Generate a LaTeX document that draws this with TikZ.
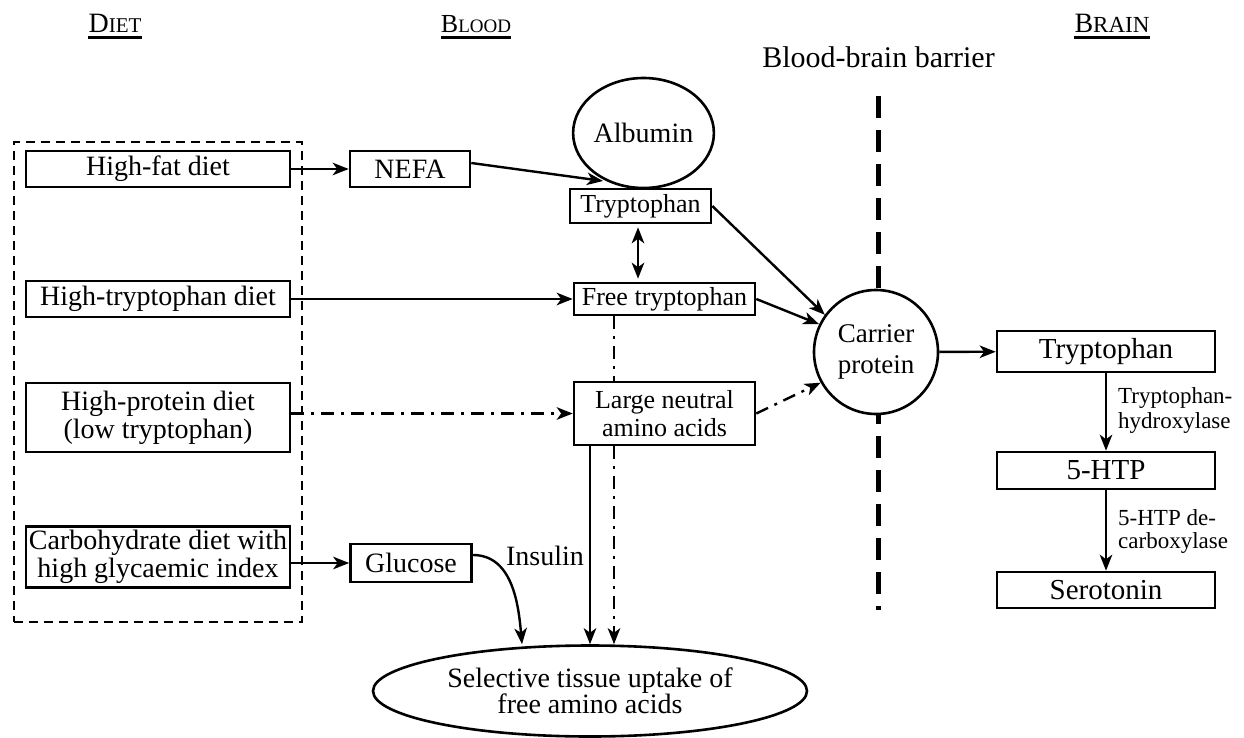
\documentclass[tikz,border=0pt]{standalone}
\usepackage{fontspec}
\setmainfont{Liberation Serif}
\usetikzlibrary{arrows.meta,shapes.geometric,calc}
\newcommand\myfs[2]{\fontsize{#1}{#2}\selectfont}
\begin{document}
\begin{tikzpicture}[x=1pt,y=-1pt,
  box/.style={draw,line width=2.6pt,inner sep=0pt,align=center,font=\myfs{28}{28}},
  arr/.style={line width=2.4pt,-{Stealth[length=16pt,width=12.5pt,inset=4.5pt]}},
  dbl/.style={line width=2.4pt,{Stealth[length=16pt,width=12.5pt,inset=4.5pt]}-{Stealth[length=16pt,width=12.5pt,inset=4.5pt]}},
  ddot/.style={dash pattern=on 13pt off 7pt on 3pt off 7pt},
  hdr/.style={anchor=base,inner sep=0pt},
  ul/.style={line width=2.4pt}
]
\useasboundingbox (0,0) rectangle (1244,738);

% headers
\node[hdr] (hdiet) at (115,33) {\myfs{28}{28}D\myfs{21}{21}IET};
\node[hdr] (hblood) at (476,33) {\myfs{26}{26}B\myfs{19}{19}LOOD};
\node[hdr] (hbrain) at (1112,33) {\myfs{28}{28}B\myfs{23}{23}RAIN};
\draw[ul] ([yshift=-4.5pt]hdiet.base west) -- ([yshift=-4.5pt]hdiet.base east);
\draw[ul] ([yshift=-4.5pt]hblood.base west) -- ([yshift=-4.5pt]hblood.base east);
\draw[ul] ([yshift=-4.5pt]hbrain.base west) -- ([yshift=-4.5pt]hbrain.base east);

\node[hdr,font=\myfs{30}{30}] (bbb) at (878.5,68) {Blood-brain barrier};
\coordinate (bartop) at (878,96);
\coordinate (barbot) at (878,610);
\draw[line width=5pt,dash pattern=on 22pt off 12pt] (bartop) -- (barbot);

% diet group
\node[draw,line width=2.4pt,dash pattern=on 9pt off 6pt,minimum width=288pt,minimum height=480pt,inner sep=0pt] (dietgrp) at (158,382) {};
\node[box,minimum width=264pt,minimum height=36pt] (hfat) at (158,169) {High-fat diet};
\node[box,minimum width=264pt,minimum height=36pt] (htryp) at (158,299) {High-tryptophan diet};
\node[box,minimum width=264pt,minimum height=69pt] (hprot) at (158,417.5) {High-protein diet\\(low tryptophan)};
\node[box,minimum width=264pt,minimum height=61pt] (carb) at (158,557) {Carbohydrate diet with\\high glycaemic index};

% blood
\node[box,minimum width=120pt,minimum height=36pt] (nefa) at (410,169) {NEFA};
\node[box,minimum width=121pt,minimum height=38pt] (gluc) at (411,563) {Glucose};
\node[draw,ellipse,line width=2.6pt,minimum width=121pt,minimum height=110pt,inner sep=0pt,font=\myfs{28}{28}] (alb) at (643.5,133) {Albumin};
\node[box,font=\myfs{26}{26},minimum width=141pt,minimum height=34pt] (trypb) at (640.5,206) {Tryptophan};
\node[box,font=\myfs{26}{26},minimum width=181pt,minimum height=32pt] (free) at (664.5,299) {Free tryptophan};
\node[box,font=\myfs{26}{28},minimum width=181pt,minimum height=63pt] (large) at (664.5,413.5) {Large neutral\\amino acids};
\node[draw,circle,fill=white,line width=2.6pt,minimum size=124pt,inner sep=0pt,align=center,font=\myfs{27}{31}] (carrier) at (876,352) {Carrier\\protein};
\node[draw,ellipse,line width=2.6pt,minimum width=434pt,minimum height=91pt,inner sep=0pt,align=center,font=\myfs{28}{26}] (upt) at (590,691) {Selective tissue uptake of\\free amino acids};
\node[hdr,font=\myfs{28}{28}] (ins) at (545,565) {Insulin};

% brain
\node[box,font=\myfs{29}{29},minimum width=218pt,minimum height=41pt] (trypbr) at (1106,351.5) {Tryptophan};
\node[box,font=\myfs{29}{29},minimum width=218pt,minimum height=37pt] (htp) at (1106,470.5) {5-HTP};
\node[box,font=\myfs{29}{29},minimum width=218pt,minimum height=36pt] (sero) at (1106,590) {Serotonin};
\node[anchor=west,align=left,inner sep=0pt,font=\myfs{23}{25}] (enz1) at (1118,410) {Tryptophan-\\hydroxylase};
\node[anchor=west,align=left,inner sep=0pt,font=\myfs{23}{23}] (enz2) at (1118,531) {5-HTP de-\\carboxylase};

% connectors
\coordinate (nefaend) at (603,181);
\coordinate (gx) at (522,0);
\draw[arr] (hfat) -- (nefa);
\draw[arr] ([yshift=6pt]nefa.east) -- (nefaend);
\draw[dbl,shorten <=3pt,shorten >=3pt] ([xshift=-2.5pt]trypb.south) -- ([xshift=-2.5pt]trypb.south |- free.north);
\draw[arr] (htryp) -- (free);
\draw[arr,ddot] (hprot.east |- large.west) -- (large.west);
\draw[arr] (carb.east |- gluc.west) -- (gluc.west);
\draw[arr] (trypb.east) -- (carrier.144);
\draw[arr] (free.east) -- (carrier.154);
\draw[arr,ddot] (large.east) -- (carrier.209);
\draw[arr] (carrier) -- (trypbr);
\draw[line width=2.4pt,ddot] ([xshift=-50.5pt]free.south) -- ([xshift=-50.5pt]large.north);
\draw[arr] ([xshift=-74.5pt]large.south) -- ([xshift=-74.5pt]large.south |- upt.north);
\draw[arr,ddot] ([xshift=-50.5pt]large.south) -- ([xshift=-50.5pt]large.south |- upt.north);
\draw[arr] ([yshift=8pt]gluc.east) to[out=0,in=95] (upt.north -| gx);
\draw[arr] (trypbr) -- (htp);
\draw[arr] (htp) -- (sero);
\end{tikzpicture}
\end{document}
